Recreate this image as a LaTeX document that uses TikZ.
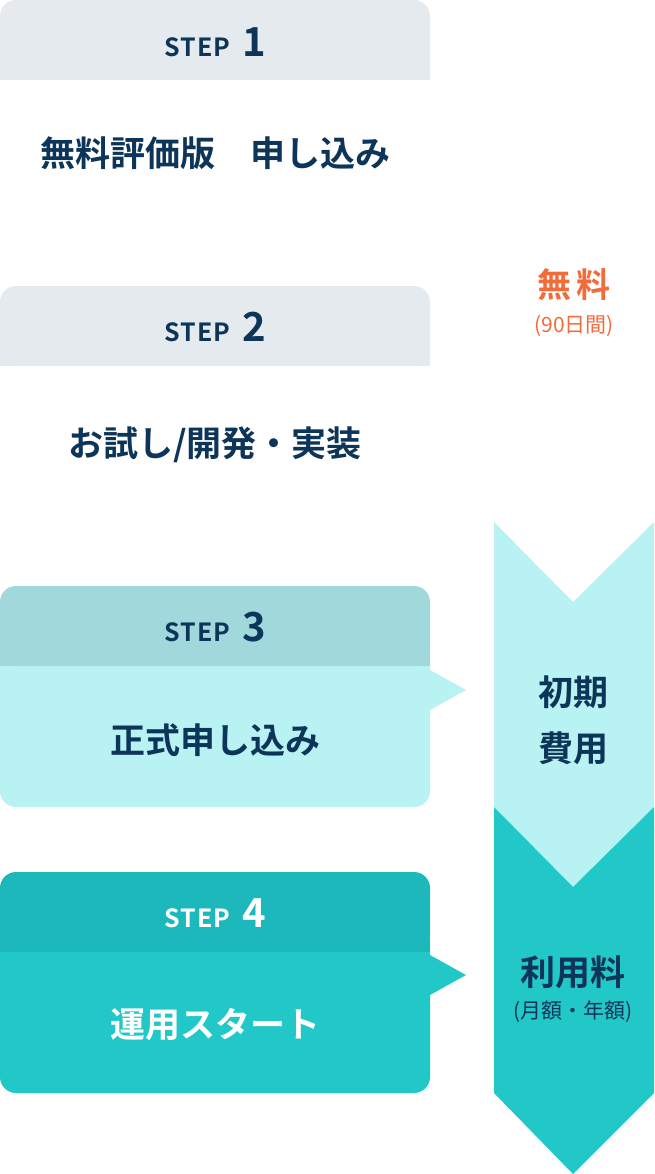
\documentclass[tikz,border=0pt]{standalone}
\usepackage{fontspec}
\setmainfont{Noto Sans CJK JP}[BoldFont={* Bold}]
\definecolor{navy}{HTML}{0D3459}
\definecolor{hgray}{HTML}{E5EAEE}
\definecolor{h3}{HTML}{A0D8DC}
\definecolor{b3}{HTML}{B8F2F2}
\definecolor{h4}{HTML}{1DB8BC}
\definecolor{b4}{HTML}{22C8C8}
\definecolor{orng}{HTML}{F26B3A}
\begin{document}
\begin{tikzpicture}[x=1pt,y=-1pt,
  steplbl/.style={text=navy,font=\bfseries\fontsize{25}{28}\selectfont},
  maintxt/.style={text=navy,font=\bfseries\fontsize{35}{38}\selectfont},
  sidetxt/.style={text=navy,font=\bfseries\fontsize{35}{38}\selectfont},
  smalltxt/.style={font=\fontsize{21}{24}\selectfont}]
\useasboundingbox (0,0) rectangle (654,1174);
% chevrons
\fill[b3] (494,522) -- (573,602) -- (654,522) -- (654,807) -- (573,887) -- (494,807) -- cycle;
\fill[b4] (494,807) -- (573,887) -- (654,807) -- (654,1093) -- (573,1174) -- (494,1093) -- cycle;
% step 1,2 headers
\fill[hgray,rounded corners=16] (0,0) rectangle (430,80);
\fill[hgray] (0,50) rectangle (430,80);
\fill[hgray,rounded corners=16] (0,286) rectangle (430,366);
\fill[hgray] (0,336) rectangle (430,366);
% step 3
\fill[b3,rounded corners=16] (0,640) rectangle (430,807);
\fill[b3] (0,660) rectangle (430,700);
\fill[b3] (430,670) -- (466,690) -- (430,710) -- cycle;
\fill[h3,rounded corners=16] (0,586) rectangle (430,666);
\fill[h3] (0,630) rectangle (430,666);
% step 4
\fill[b4,rounded corners=16] (0,925) rectangle (430,1093);
\fill[b4] (0,945) rectangle (430,985);
\fill[b4] (430,955) -- (466,975) -- (430,995) -- cycle;
\fill[h4,rounded corners=16] (0,872) rectangle (430,952);
\fill[h4] (0,915) rectangle (430,952);
% labels
\node[steplbl] (s1) at (215,42) {S\kern1ptT\kern1ptE\kern1ptP\hspace{12pt}{\fontsize{40}{42}\selectfont 1}};
\node[steplbl] (s2) at (215,327) {S\kern1ptT\kern1ptE\kern1ptP\hspace{12pt}{\fontsize{40}{42}\selectfont 2}};
\node[steplbl] (s3) at (215,627) {S\kern1ptT\kern1ptE\kern1ptP\hspace{12pt}{\fontsize{40}{42}\selectfont 3}};
\node[steplbl,text=white] (s4) at (215,913) {S\kern1ptT\kern1ptE\kern1ptP\hspace{12pt}{\fontsize{40}{42}\selectfont 4}};
\node[maintxt] (t1) at (215,153) {無料評価版　申し込み};
\node[maintxt] (t2) at (215,445) {お試し/開発・実装};
\node[maintxt] (t3) at (215,740) {正式申し込み};
\node[maintxt,text=white] (t4) at (215,1025) {運用スタート};
\node[text=orng,font=\bfseries\fontsize{34}{36}\selectfont] (f1) at (574,285) {無\hspace{6pt}料};
\node[text=orng,smalltxt] (f2) at (574,326) {(90日間)};
\node[sidetxt] (c1) at (573,692) {初期};
\node[sidetxt] (c2) at (573,748) {費用};
\node[sidetxt] (r1) at (573,972) {利用料};
\node[text=navy,smalltxt] (r2) at (573,1012) {(月額・年額)};
\end{tikzpicture}
\end{document}
